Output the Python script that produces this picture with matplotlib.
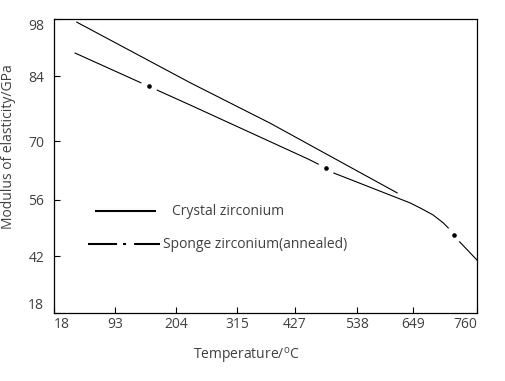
import numpy as np
import matplotlib
matplotlib.use('Agg')
import matplotlib.pyplot as plt

plt.rcParams['font.family'] = ['Open Sans', 'DejaVu Sans']
plt.rcParams['mathtext.fontset'] = 'custom'
plt.rcParams['mathtext.rm'] = 'Open Sans'
plt.rcParams['lines.scale_dashes'] = False

# the axes of the original are not linear: ticks sit where they are drawn
temp_ticks = [18, 93, 204, 315, 427, 538, 649, 760]
temp_tick_pos = [0, 1.009, 2.019, 3.029, 3.988, 5.015, 5.947, 7]
mod_ticks = [18, 42, 56, 70, 84, 98]
mod_tick_pos = [0, 0.974, 1.927, 2.925, 4.031, 5]

# crystal zirconium (solid)
crystal_temp = [46, 230, 379, 617]
crystal_mod = [97.3, 82.6, 73.9, 57.7]

# sponge zirconium, annealed (dash-dot, only a few dots along the curve)
sponge_temp = [44, 230, 450, 483, 497, 642, 661, 683, 701, 710, 720, 730, 760]
sponge_mod = [89.7, 77.8, 65.8, 63.6, 62.4, 55.3, 54.0, 52.3, 50.3, 49.0, 47.3, 45.5, 40.3]
sponge_dots = [155, 483, 720]

text_col = '#404040'
fs = 10


def xpos(t):
	return np.interp(t, temp_ticks, temp_tick_pos)

def ypos(m):
	return np.interp(m, mod_ticks, mod_tick_pos)


fig = plt.figure(figsize=(5.06, 3.81), dpi=100)
ax = fig.add_axes([54/506, 1-313.3/381, 423/506, 294/381])
ax.set_xlim(0, 7)
ax.set_ylim(0, 5)

ax.plot(xpos(crystal_temp), ypos(crystal_mod), color='k', lw=0.8)

# cut the sponge curve around each dot (gap measured in pixels)
px_x = 423/7.0
px_y = 294/5.0
x = xpos(sponge_temp)
y = ypos(sponge_mod)
s = np.concatenate([[0], np.cumsum(np.hypot(np.diff(x)*px_x, np.diff(y)*px_y))])
s_dots = np.interp(xpos(sponge_dots), x, s)
half_gap = 9.0
edges = [0.0]
for sd in s_dots:
	edges += [sd-half_gap, sd+half_gap]
edges.append(s[-1])
for a, b in zip(edges[::2], edges[1::2]):
	inner = (s > a) & (s < b)
	ss = np.concatenate([[a], s[inner], [b]])
	ax.plot(np.interp(ss, s, x), np.interp(ss, s, y), color='k', lw=0.8)
ax.plot(np.interp(s_dots, s, x), np.interp(s_dots, s, y), 'o', color='k', ms=2.3)

# hand drawn legend
ax.plot([0.0969, 0.2411], [0.3469, 0.3469], transform=ax.transAxes, color='k',
	lw=1.5, solid_capstyle='butt')
ax.plot([0.0804, 0.2506], [0.2357, 0.2357], transform=ax.transAxes, color='k',
	lw=1.5, ls=(0, (20.9, 4.3, 2.2, 5.8)), dash_capstyle='butt')
ax.text(0.279, 0.3469, 'Crystal zirconium', transform=ax.transAxes, va='center',
	fontsize=fs, color=text_col)
ax.text(0.258, 0.2357, 'Sponge zirconium(annealed)', transform=ax.transAxes,
	va='center', fontsize=fs, color=text_col)

ax.set_xticks(temp_tick_pos)
ax.set_xticklabels([str(v) for v in temp_ticks])
ax.set_yticks(mod_tick_pos)
ax.set_yticklabels([str(v) for v in mod_ticks])
ax.tick_params(direction='in', length=4.3, width=0.8, labelsize=fs,
	labelcolor=text_col, top=False, right=False)
ax.tick_params(axis='x', pad=2.5)
ax.tick_params(axis='y', pad=7)
xl = ax.get_xticklabels()
xl[0].set_ha('left')
xl[-1].set_ha('right')
yl = ax.get_yticklabels()
yl[0].set_va('bottom')
yl[-1].set_va('top')
for sp in ax.spines.values():
	sp.set_linewidth(0.9)

ax.set_xlabel('Temperature/$^{\\rm o}$C', fontsize=fs, color=text_col)
ax.set_ylabel('Modulus of elasticity/GPa', fontsize=fs, color=text_col)
ax.xaxis.set_label_coords(0.454, -0.112)
ax.yaxis.set_label_coords(-0.089, 0.567)

fig.savefig('out.png', dpi=100)
